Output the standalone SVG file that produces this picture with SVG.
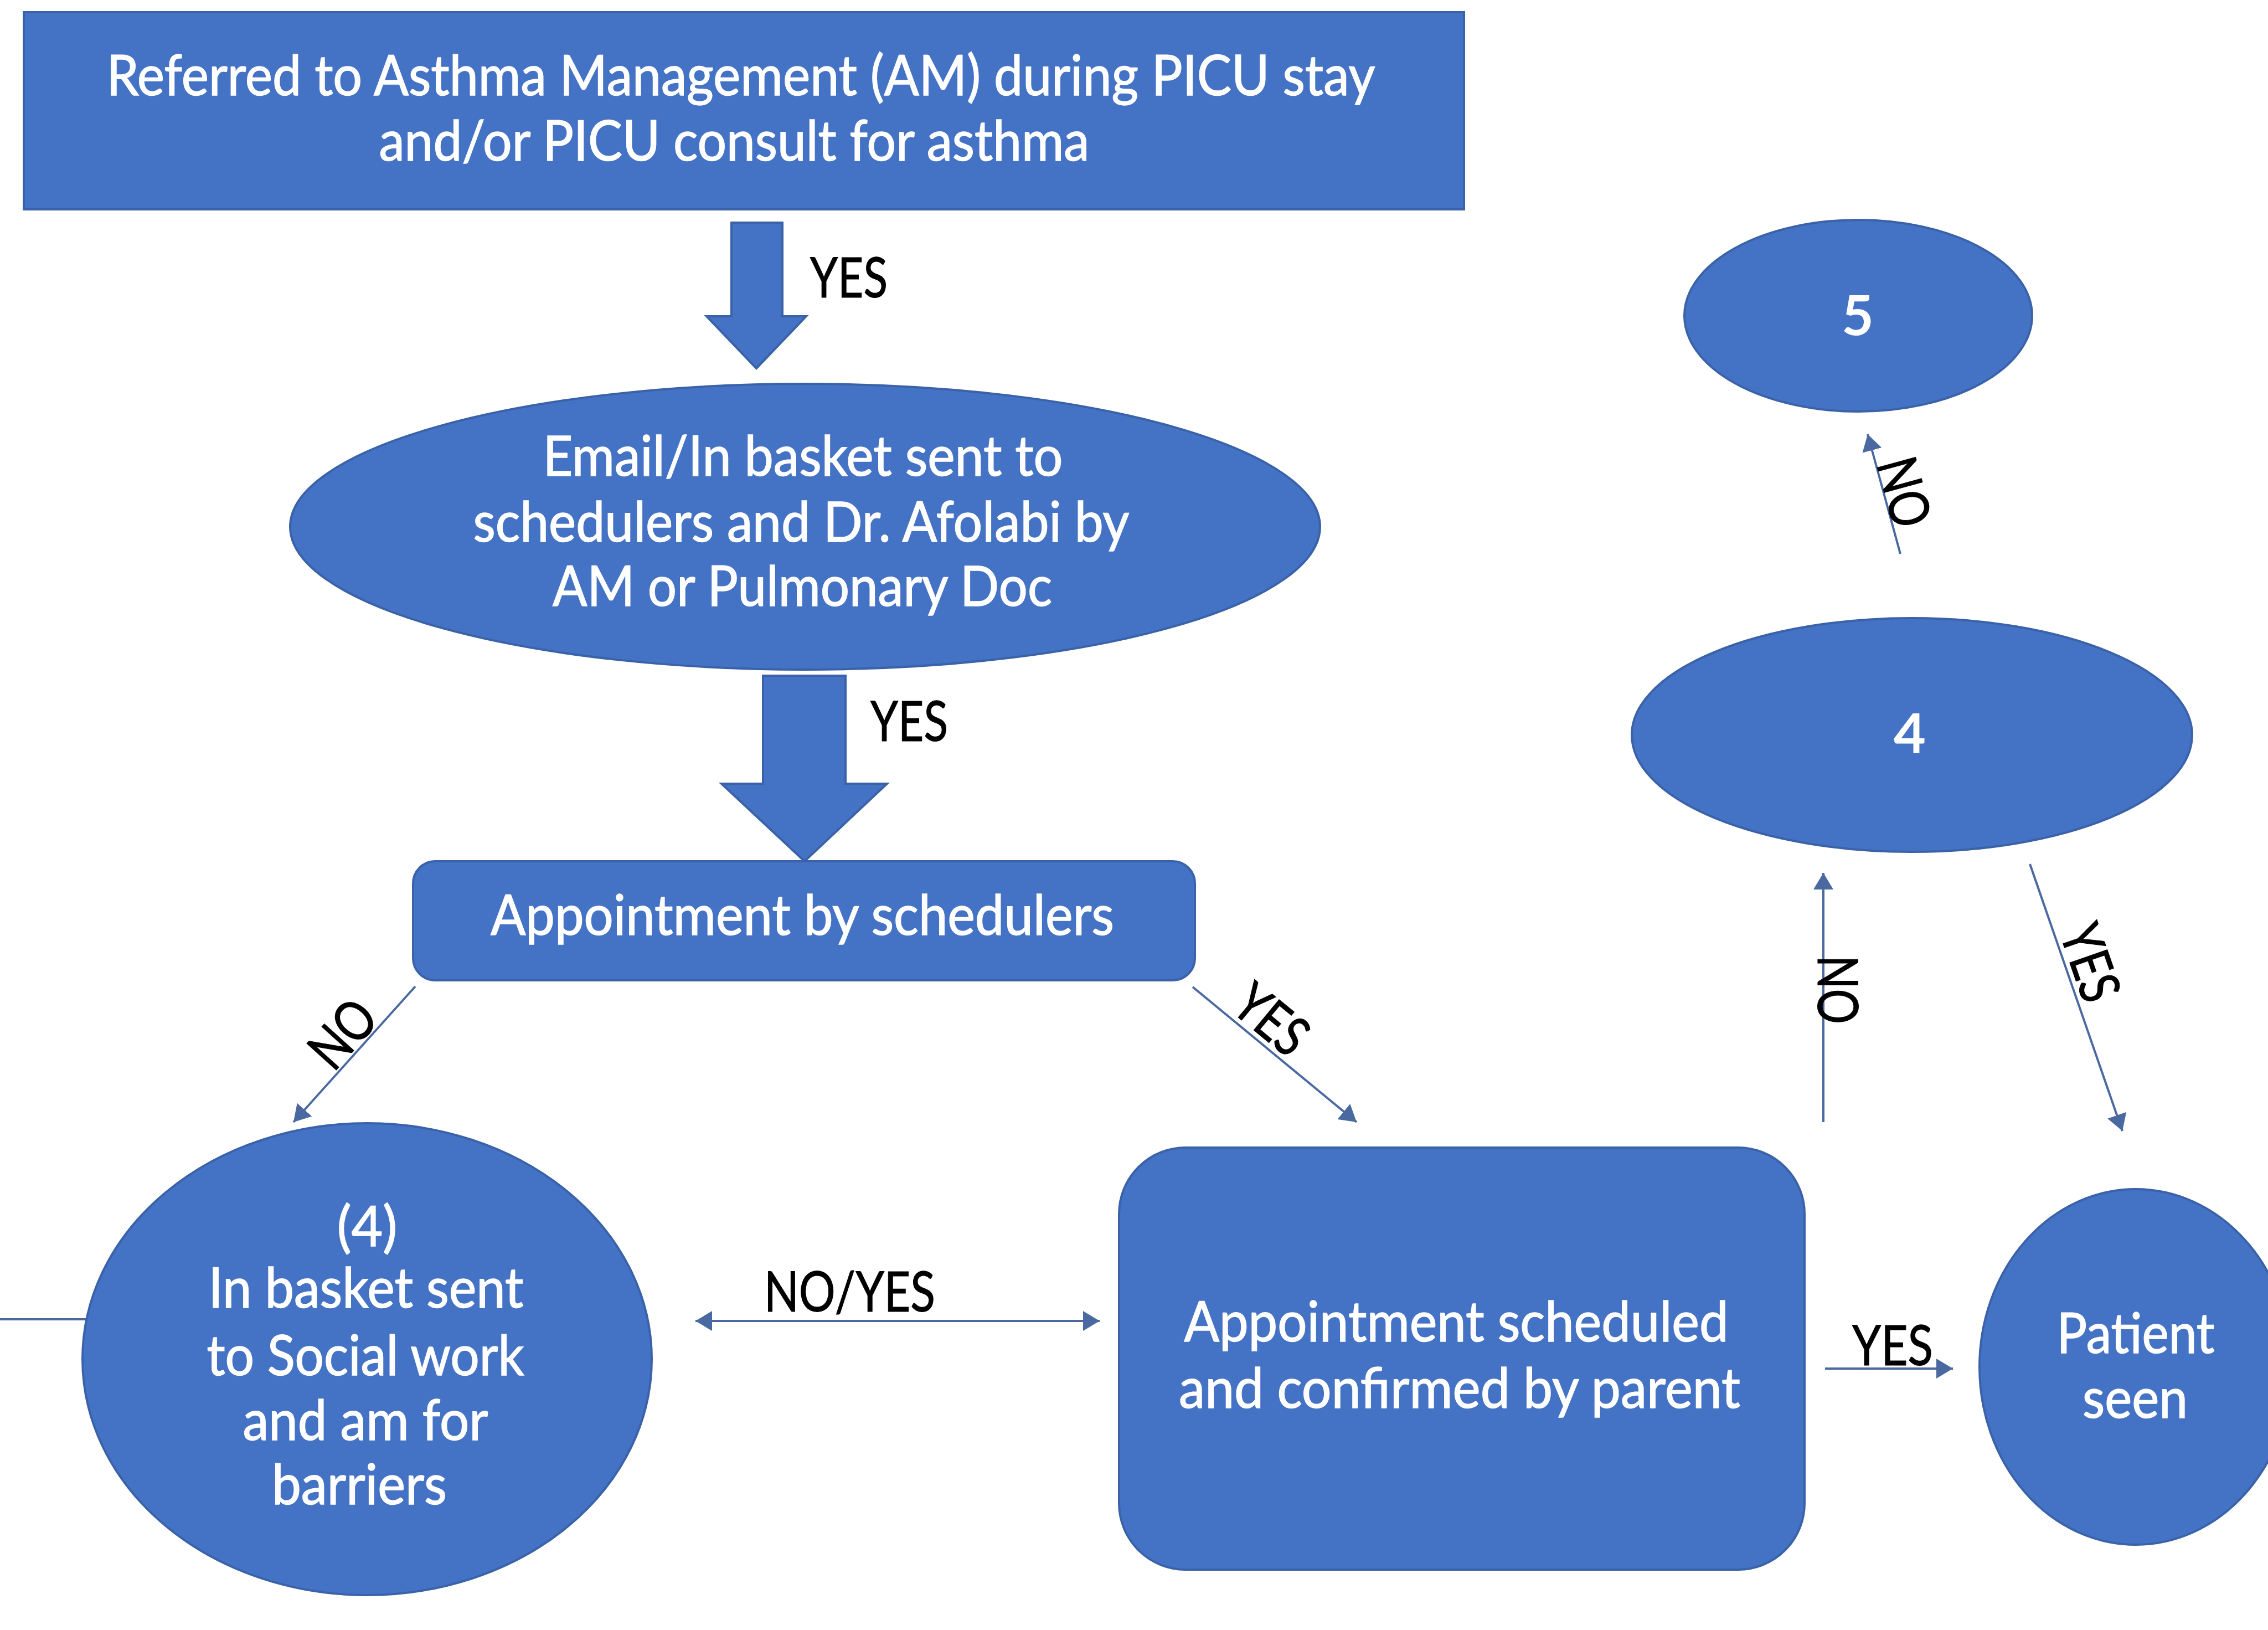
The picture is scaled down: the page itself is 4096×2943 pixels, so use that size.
<svg xmlns="http://www.w3.org/2000/svg" width="4096" height="2943" viewBox="0 0 4096 2943">
<style>
.shape { fill: #4472C4; stroke: #3A62A8; stroke-width: 4; }
.nt { font-family: Lato, "Open Sans", "Liberation Sans", sans-serif; font-size: 100px; fill: #ffffff; stroke: #ffffff; stroke-width: 1.5; text-anchor: middle; }
.num { font-weight: bold; stroke-width: 0; }
.lb { font-family: Lato, "Open Sans", "Liberation Sans", sans-serif; font-size: 100px; fill: #000000; stroke: #000000; stroke-width: 1.2; }
.ln { stroke: #4A69A0; stroke-width: 4; fill: none; }
</style>
<defs>
<marker id="ah" viewBox="0 0 30 36" refX="30" refY="18" markerWidth="30" markerHeight="36" markerUnits="userSpaceOnUse" orient="auto-start-reverse">
<path d="M0,0 L30,18 L0,36 z" fill="#4A69A0"/>
</marker>
</defs>
<rect width="4096" height="2943" fill="#ffffff"/>

<g id="connectors">
<path id="blockarrow1" class="shape" d="M1321,402 L1413,402 L1413,571 L1456,571 L1366,665 L1276,571 L1321,571 z"/>
<text class="lb" x="1463" y="537" textLength="140" lengthAdjust="spacingAndGlyphs">YES</text>
<path id="blockarrow2" class="shape" d="M1378,1220 L1527,1220 L1527,1415 L1602,1415 L1453,1555 L1303,1415 L1378,1415 z"/>
<text class="lb" x="1572" y="1338" textLength="140" lengthAdjust="spacingAndGlyphs">YES</text>

<line class="ln" x1="750" y1="1781" x2="530" y2="2026" marker-end="url(#ah)"/>
<text class="lb" text-anchor="middle" transform="translate(645,1890) rotate(-48)" x="0" y="0" textLength="128" lengthAdjust="spacingAndGlyphs">NO</text>

<line class="ln" x1="2154" y1="1782" x2="2450" y2="2026" marker-end="url(#ah)"/>
<text class="lb" text-anchor="middle" transform="translate(2274,1868) rotate(39.5)" x="0" y="0" textLength="140" lengthAdjust="spacingAndGlyphs">YES</text>

<line class="ln" x1="0" y1="2382" x2="156" y2="2382"/>

<line class="ln" x1="1256" y1="2385" x2="1986" y2="2385" marker-start="url(#ah)" marker-end="url(#ah)"/>
<text class="lb" x="1380" y="2368" textLength="309" lengthAdjust="spacingAndGlyphs">NO/YES</text>

<line class="ln" x1="3296" y1="2471" x2="3527" y2="2471" marker-end="url(#ah)"/>
<text class="lb" x="3345" y="2465" textLength="146" lengthAdjust="spacingAndGlyphs">YES</text>

<line class="ln" x1="3293" y1="2026" x2="3293" y2="1576" marker-end="url(#ah)"/>
<text class="lb" text-anchor="middle" transform="translate(3283,1787) rotate(90)" x="0" y="0" textLength="124" lengthAdjust="spacingAndGlyphs">NO</text>

<line class="ln" x1="3666" y1="1560" x2="3833" y2="2042" marker-end="url(#ah)"/>
<text class="lb" text-anchor="middle" transform="translate(3742,1750) rotate(70.9)" x="0" y="0" textLength="140" lengthAdjust="spacingAndGlyphs">YES</text>

<line class="ln" x1="3432" y1="1000" x2="3373" y2="784" marker-end="url(#ah)"/>
<text class="lb" text-anchor="middle" transform="translate(3405,898) rotate(74.7)" x="0" y="0" textLength="126" lengthAdjust="spacingAndGlyphs">NO</text>
</g>

<g id="node-referred">
<rect class="shape" x="43" y="22" width="2601" height="356"/>
<text class="nt" x="1338" y="172" textLength="2291" lengthAdjust="spacingAndGlyphs">Referred to Asthma Management (AM) during PICU stay</text>
<text class="nt" x="1326" y="290" textLength="1283" lengthAdjust="spacingAndGlyphs">and/or PICU consult for asthma</text>
</g>

<g id="node-email">
<ellipse class="shape" cx="1454" cy="951" rx="930" ry="258"/>
<text class="nt" x="1450" y="859" textLength="939" lengthAdjust="spacingAndGlyphs">Email/In basket sent to</text>
<text class="nt" x="1447" y="978" textLength="1185" lengthAdjust="spacingAndGlyphs">schedulers and Dr. Afolabi by</text>
<text class="nt" x="1449" y="1094" textLength="902" lengthAdjust="spacingAndGlyphs">AM or Pulmonary Doc</text>
</g>

<g id="node-appointment-by-schedulers">
<rect class="shape" x="746" y="1555" width="1412" height="215" rx="40" ry="40"/>
<text class="nt" x="1449" y="1688" textLength="1126" lengthAdjust="spacingAndGlyphs">Appointment by schedulers</text>
</g>

<g id="node-social-work">
<ellipse class="shape" cx="663" cy="2454" rx="514" ry="426"/>
<text class="nt" x="663" y="2250" textLength="109" lengthAdjust="spacingAndGlyphs">(4)</text>
<text class="nt" x="661" y="2361" textLength="569" lengthAdjust="spacingAndGlyphs">In basket sent</text>
<text class="nt" x="660" y="2483" textLength="573" lengthAdjust="spacingAndGlyphs">to Social work</text>
<text class="nt" x="660" y="2600" textLength="443" lengthAdjust="spacingAndGlyphs">and am for</text>
<text class="nt" x="649" y="2716" textLength="316" lengthAdjust="spacingAndGlyphs">barriers</text>
</g>

<g id="node-appointment-scheduled">
<rect class="shape" x="2021" y="2072" width="1238" height="762" rx="120" ry="120"/>
<text class="nt" x="2630" y="2422" textLength="983" lengthAdjust="spacingAndGlyphs">Appointment scheduled</text>
<text class="nt" x="2636" y="2542" textLength="1014" lengthAdjust="spacingAndGlyphs">and confirmed by parent</text>
</g>

<g id="node-patient-seen">
<ellipse class="shape" cx="3857" cy="2468" rx="282" ry="321"/>
<text class="nt" x="3857" y="2443" textLength="285" lengthAdjust="spacingAndGlyphs">Patient</text>
<text class="nt" x="3856" y="2560" textLength="190" lengthAdjust="spacingAndGlyphs">seen</text>
</g>

<g id="node-4">
<ellipse class="shape" cx="3453" cy="1327" rx="506" ry="211"/>
<text class="nt num" x="3449" y="1360">4</text>
</g>

<g id="node-5">
<ellipse class="shape" cx="3356" cy="570" rx="314" ry="173"/>
<text class="nt num" x="3355" y="605">5</text>
</g>
</svg>
